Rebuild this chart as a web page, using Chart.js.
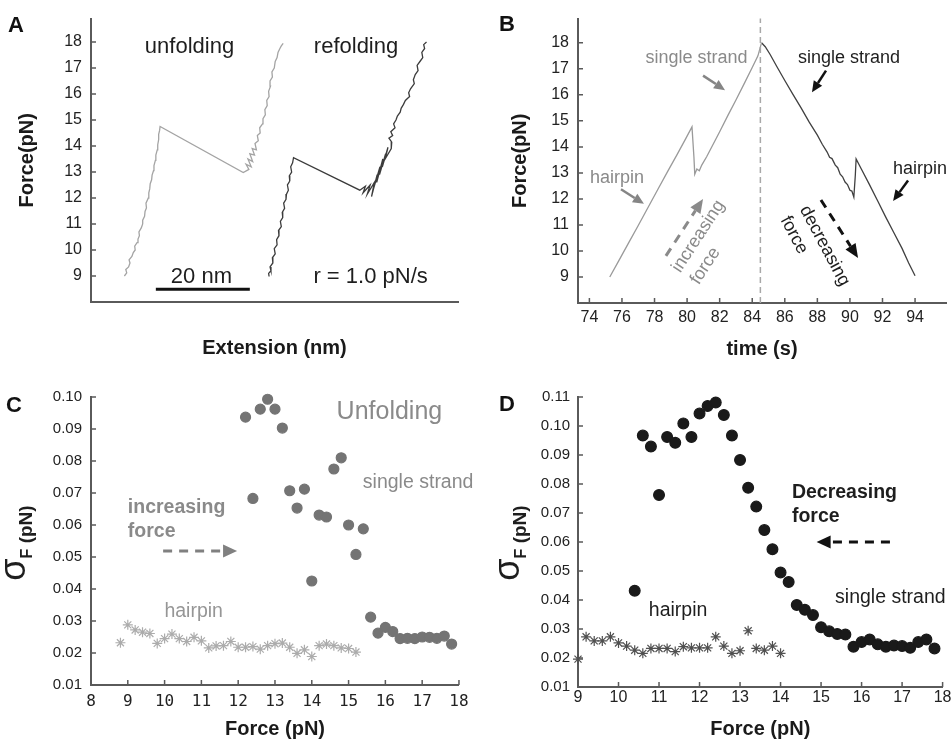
<!DOCTYPE html>
<html>
<head>
<meta charset="utf-8">
<title>Hairpin unfolding / refolding</title>
<script src="https://cdn.jsdelivr.net/npm/chart.js@4.4.1/dist/chart.umd.min.js"></script>
<style>
    body { margin: 0; background: #fff; }
    #fig { position: relative; width: 952px; height: 740px; overflow: hidden; }
    .panel { position: absolute; width: 476px; height: 370px; }
    .tag { position: absolute; font: bold 22px "Liberation Sans", Arial, sans-serif; color: #111; line-height: 22px; }
</style>
</head>
<body>
<div id="fig">
    <div class="panel" style="left:0;top:0"><canvas id="chart-a"></canvas></div>
    <div class="panel" style="left:476px;top:0"><canvas id="chart-b"></canvas></div>
    <div class="panel" style="left:0;top:370px"><canvas id="chart-c"></canvas></div>
    <div class="panel" style="left:476px;top:370px"><canvas id="chart-d"></canvas></div>
    <div class="tag" style="left:8px;top:14px">A</div>
    <div class="tag" style="left:499px;top:13px">B</div>
    <div class="tag" style="left:6px;top:394px">C</div>
    <div class="tag" style="left:499px;top:393px">D</div>
</div>

<script>
// =====================
// DATA
// =====================

// A: force vs extension, unfolding pull (nm, pN)
const unfoldExt = [7.1, 7.6, 7.4, 8.0, 8.3, 8.1, 8.7, 9.0, 9.4, 9.3, 9.8, 10.0, 10.3, 10.2, 10.7, 11.0, 11.0, 11.4, 11.5, 11.8,
    11.7, 12.2, 12.3, 12.5, 12.6, 12.9, 13.0, 13.3, 13.4, 13.7, 13.8, 14.1, 14.2, 14.4, 14.4, 14.6, 14.7,
    32.4, 33.6, 33.0, 34.1, 33.4, 34.4, 33.8, 34.8, 34.3, 35.2, 34.9, 35.6, 35.4, 36.0, 35.9, 36.5, 36.6, 37.1, 37.0, 37.5,
    37.4, 37.9, 37.8, 38.2, 38.1, 38.6, 38.5, 39.0, 39.2, 39.6, 39.8, 40.2, 40.5, 40.9];
const unfoldForce = [9.0, 9.12, 9.25, 9.35, 9.5, 9.62, 9.75, 9.9, 10.0, 10.15, 10.28, 10.42, 10.55, 10.7, 10.85, 11.0, 11.15, 11.3, 11.48, 11.62,
    11.8, 12.0, 12.2, 12.35, 12.55, 12.7, 12.88, 13.05, 13.25, 13.45, 13.65, 13.85, 14.05, 14.25, 14.45, 14.6, 14.75,
    12.98, 13.1, 13.3, 13.2, 13.5, 13.4, 13.7, 13.65, 13.9, 13.85, 14.1, 14.2, 14.4, 14.5, 14.7, 14.85, 15.05, 15.2, 15.4, 15.55,
    15.75, 15.9, 16.1, 16.3, 16.5, 16.65, 16.85, 17.0, 17.25, 17.4, 17.6, 17.75, 17.85, 17.95];

// A: refolding relaxation, starts at the top and runs down
const refoldExt = [71.4, 70.8, 71.0, 70.4, 70.6, 70.0, 69.4, 69.6, 69.0, 68.6, 68.8, 68.0, 67.6, 67.8, 66.9, 66.5, 66.0, 65.8, 65.2, 64.9,
    64.4, 64.7, 63.8, 64.2, 63.4, 64.0, 63.9, 62.6, 63.2, 62.0, 62.7, 61.4, 62.1, 60.8, 61.5, 60.2, 60.9, 59.7, 60.3, 58.8,
    59.4, 57.9, 58.4, 57.2,
    43.1, 42.9, 42.5, 42.7, 42.2, 42.3, 41.8, 42.0, 41.6, 41.5, 41.0, 41.2, 40.7, 40.8, 40.3, 40.5, 39.9, 40.0, 39.5, 39.6,
    39.0, 39.2, 38.6, 38.7, 38.1, 38.3, 37.8, 37.9];
const refoldForce = [18.0, 17.9, 17.75, 17.6, 17.4, 17.25, 17.1, 16.9, 16.75, 16.55, 16.4, 16.2, 16.05, 15.9, 15.75, 15.6, 15.45, 15.3, 15.15, 15.0,
    14.85, 14.7, 14.55, 14.4, 14.3, 14.15, 13.9, 13.5, 13.95, 13.2, 13.7, 12.9, 13.5, 12.6, 13.2, 12.4, 12.9, 12.05, 12.6, 12.15,
    12.5, 12.2, 12.45, 12.3,
    13.55, 13.35, 13.2, 13.0, 12.85, 12.65, 12.5, 12.3, 12.15, 11.95, 11.8, 11.6, 11.45, 11.25, 11.1, 10.9, 10.75, 10.55, 10.4, 10.2,
    10.05, 9.85, 9.7, 9.5, 9.35, 9.2, 9.1, 8.98];

const scaleBarExt = [13.8, 33.8];   // 20 nm
const scaleBarForce = 8.49;
const forceTicks = [9, 10, 11, 12, 13, 14, 15, 16, 17, 18];

// B: force vs time
const riseTime = [75.25, 75.8, 76.4, 77.0, 77.6, 78.2, 78.8, 79.4, 79.9, 80.3, 80.42, 80.47, 80.6, 80.75, 80.9, 81.2, 81.6, 82.0,
    82.5, 83.0, 83.5, 84.0, 84.35, 84.57];
const riseForce = [9.0, 9.62, 10.3, 10.98, 11.67, 12.36, 13.05, 13.72, 14.3, 14.77, 13.6, 12.95, 13.15, 13.08, 13.3, 13.62, 14.1, 14.58,
    15.2, 15.8, 16.42, 17.05, 17.5, 18.0];
const fallTime = [84.57, 84.8, 85.1, 85.5, 86.0, 86.5, 87.0, 87.5, 88.0, 88.3, 88.6, 88.75, 88.9, 89.1, 89.25, 89.4, 89.55, 89.7,
    89.85, 90.0, 90.12, 90.24, 90.33, 90.38, 90.7, 91.2, 91.7, 92.2, 92.7, 93.2, 93.6, 94.0];
const fallForce = [18.0, 17.85, 17.55, 17.1, 16.55, 16.02, 15.5, 14.95, 14.45, 14.1, 13.8, 13.6, 13.55, 13.3, 13.2, 12.95, 12.85, 12.65,
    12.55, 12.33, 12.3, 12.07, 12.9, 13.54, 13.15, 12.55, 11.93, 11.3, 10.7, 10.1, 9.55, 9.05];
const turnTime = 84.5;
const timeTicks = [74, 76, 78, 80, 82, 84, 86, 88, 90, 92, 94];

// C: force fluctuation while unfolding
const upSSForce = [12.2, 12.4, 12.6, 12.8, 13.0, 13.2, 13.4, 13.6, 13.8, 14.0, 14.2, 14.4, 14.6, 14.8, 15.0, 15.2, 15.4,
    15.6, 15.8, 16.0, 16.2, 16.4, 16.6, 16.8, 17.0, 17.2, 17.4, 17.6, 17.8];
const upSSSigma = [0.0937, 0.0683, 0.0962, 0.0993, 0.0962, 0.0903, 0.0707, 0.0653, 0.0712, 0.0425, 0.0631, 0.0625, 0.0775, 0.0810, 0.0600, 0.0508, 0.0588,
    0.0312, 0.0262, 0.0280, 0.0267, 0.0245, 0.0246, 0.0245, 0.0250, 0.0249, 0.0246, 0.0253, 0.0228];
const upHPForce = [8.8, 9.0, 9.2, 9.4, 9.6, 9.8, 10.0, 10.2, 10.4, 10.6, 10.8, 11.0, 11.2, 11.4, 11.6, 11.8, 12.0,
    12.2, 12.4, 12.6, 12.8, 13.0, 13.2, 13.4, 13.6, 13.8, 14.0, 14.2, 14.4, 14.6, 14.8, 15.0, 15.2];
const upHPSigma = [0.0232, 0.0288, 0.0272, 0.0265, 0.0261, 0.0230, 0.0245, 0.0259, 0.0245, 0.0236, 0.0249, 0.0238, 0.0216, 0.0222, 0.0223, 0.0236, 0.0218,
    0.0218, 0.0220, 0.0212, 0.0223, 0.0229, 0.0231, 0.0218, 0.0199, 0.0210, 0.0189, 0.0223, 0.0228, 0.0223, 0.0216, 0.0214, 0.0203];

// D: force fluctuation while refolding
const downSSForce = [10.4, 10.6, 10.8, 11.0, 11.2, 11.4, 11.6, 11.8, 12.0, 12.2, 12.4, 12.6, 12.8, 13.0, 13.2, 13.4, 13.6, 13.8, 14.0,
    14.2, 14.4, 14.6, 14.8, 15.0, 15.2, 15.4, 15.6, 15.8, 16.0, 16.2, 16.4, 16.6, 16.8, 17.0, 17.2, 17.4, 17.6, 17.8];
const downSSSigma = [0.0432, 0.0967, 0.0929, 0.0762, 0.0962, 0.0942, 0.1009, 0.0962, 0.1043, 0.1069, 0.1081, 0.1038, 0.0967, 0.0883, 0.0787, 0.0722, 0.0641, 0.0575, 0.0495,
    0.0462, 0.0383, 0.0366, 0.0348, 0.0306, 0.0292, 0.0283, 0.0281, 0.0239, 0.0255, 0.0264, 0.0247, 0.0239, 0.0243, 0.0241, 0.0235, 0.0255, 0.0264, 0.0233];
const downHPForce = [9.0, 9.2, 9.4, 9.6, 9.8, 10.0, 10.2, 10.4, 10.6, 10.8, 11.0, 11.2, 11.4, 11.6, 11.8, 12.0, 12.2,
    12.4, 12.6, 12.8, 13.0, 13.2, 13.4, 13.6, 13.8, 14.0];
const downHPSigma = [0.0196, 0.0273, 0.0259, 0.0259, 0.0273, 0.0252, 0.0241, 0.0227, 0.0216, 0.0233, 0.0233, 0.0233, 0.0222, 0.0239, 0.0235, 0.0235, 0.0235,
    0.0273, 0.0241, 0.0216, 0.0225, 0.0294, 0.0233, 0.0227, 0.0241, 0.0216];

const sigmaTicksC = [0.01, 0.02, 0.03, 0.04, 0.05, 0.06, 0.07, 0.08, 0.09, 0.10];
const sigmaTicksD = [0.01, 0.02, 0.03, 0.04, 0.05, 0.06, 0.07, 0.08, 0.09, 0.10, 0.11];
const forceTicksC = [8, 9, 10, 11, 12, 13, 14, 15, 16, 17, 18];
const forceTicksD = [9, 10, 11, 12, 13, 14, 15, 16, 17, 18];

// =====================
// HELPERS
// =====================

const SANS = '"Liberation Sans", Arial, sans-serif';
const MONO = '"DejaVu Sans Mono", monospace';
const AXIS = '#5a5a5a';
const GREY_TXT = '#8a8a8a';
const DARK_TXT = '#1e1e1e';

const pts = (xs, ys) => xs.map((v, i) => ({ x: v, y: Array.isArray(ys) ? ys[i] : ys }));

function axis(o) {
    return {
        type: 'linear',
        min: o.min,
        max: o.max,
        grid: { display: false, drawTicks: false },
        border: { display: true, color: AXIS, width: 2 },
        afterBuildTicks: s => { s.ticks = (o.ticks || []).map(v => ({ value: v })); },
        afterFit: s => {
            if (o.width) s.width = o.width;
            if (o.height) s.height = o.height;
        },
        ticks: {
            display: !!o.ticks,
            padding: o.tickPad || 0,
            color: '#222',
            font: o.tickFont || { family: SANS, size: 16 },
            callback: o.fmt || (v => v),
        },
        title: {
            display: !!o.title,
            text: o.title,
            color: '#1a1a1a',
            font: { family: SANS, size: 20, weight: 'bold', lineHeight: 1 },
            padding: o.titlePad || 0,
        },
    };
}

function drawArrow(ctx, x1, y1, x2, y2, s) {
    const ang = Math.atan2(y2 - y1, x2 - x1);
    const hl = s.head || 11, hw = (s.headW || 10) / 2;
    const bx = x2 - hl * Math.cos(ang), by = y2 - hl * Math.sin(ang);
    ctx.strokeStyle = s.color;
    ctx.fillStyle = s.color;
    ctx.lineWidth = s.width || 2.5;
    ctx.setLineDash(s.dash || []);
    ctx.beginPath();
    ctx.moveTo(x1, y1);
    ctx.lineTo(bx, by);
    ctx.stroke();
    ctx.setLineDash([]);
    ctx.beginPath();
    ctx.moveTo(x2, y2);
    ctx.lineTo(bx + hw * Math.sin(ang), by - hw * Math.cos(ang));
    ctx.lineTo(bx - hw * Math.sin(ang), by + hw * Math.cos(ang));
    ctx.closePath();
    ctx.fill();
}

// sigma_F (pN) axis title, rotated, with subscript
function sigmaTitle(ctx, bx, cy) {
    const parts = [
        { t: 'σ', f: '36px ' + SANS, dy: 0 },
        { t: 'F', f: 'bold 16px ' + SANS, dy: 7 },
        { t: ' (pN)', f: 'bold 19px ' + SANS, dy: 7 },
    ];
    ctx.save();
    ctx.translate(bx, cy);
    ctx.rotate(-Math.PI / 2);
    let w = 0;
    parts.forEach(p => { ctx.font = p.f; p.w = ctx.measureText(p.t).width; w += p.w; });
    let x0 = -w / 2;
    ctx.fillStyle = DARK_TXT;
    ctx.textAlign = 'left';
    ctx.textBaseline = 'alphabetic';
    parts.forEach(p => { ctx.font = p.f; ctx.fillText(p.t, x0, p.dy); x0 += p.w; });
    ctx.restore();
}

// inward tick marks, notes and arrows placed in data units
function decor(cfg) {
    return {
        id: 'decor',
        beforeDatasetsDraw(chart) {
            const { ctx, chartArea: a, scales: { x, y } } = chart;
            ctx.save();
            ctx.strokeStyle = AXIS;
            ctx.lineWidth = 1.5;
            ctx.beginPath();
            if (cfg.yTicks) y.ticks.forEach(t => {
                const p = y.getPixelForValue(t.value);
                ctx.moveTo(a.left, p); ctx.lineTo(a.left + 5, p);
            });
            if (cfg.xTicks) x.ticks.forEach(t => {
                const p = x.getPixelForValue(t.value);
                ctx.moveTo(p, a.bottom); ctx.lineTo(p, a.bottom - 5);
            });
            ctx.stroke();
            ctx.restore();
        },
        afterDatasetsDraw(chart) {
            const { ctx, scales: { x, y } } = chart;
            ctx.save();
            (cfg.arrows || []).forEach(ar => drawArrow(ctx,
                x.getPixelForValue(ar.from[0]), y.getPixelForValue(ar.from[1]),
                x.getPixelForValue(ar.to[0]), y.getPixelForValue(ar.to[1]), ar));
            (cfg.notes || []).forEach(n => {
                const lines = Array.isArray(n.text) ? n.text : [n.text];
                ctx.save();
                ctx.translate(x.getPixelForValue(n.at[0]), y.getPixelForValue(n.at[1]));
                ctx.rotate((n.rotate || 0) * Math.PI / 180);
                ctx.font = n.font;
                ctx.fillStyle = n.color;
                ctx.textAlign = n.align || 'center';
                ctx.textBaseline = 'middle';
                lines.forEach((s, i) => ctx.fillText(s, 0, i * (n.gap || 0)));
                ctx.restore();
            });
            if (cfg.sigma) sigmaTitle(ctx, cfg.sigma[0], cfg.sigma[1]);
            ctx.restore();
        },
    };
}

function baseOptions(pad, x, y) {
    return {
        responsive: true,
        maintainAspectRatio: false,
        animation: false,
        layout: { padding: pad },
        plugins: { legend: { display: false }, tooltip: { enabled: false } },
        scales: { x: x, y: y },
    };
}

const line = (data, color, width, extra) => Object.assign({
    data: data, showLine: true, borderColor: color, borderWidth: width,
    pointRadius: 0, tension: 0, fill: false, clip: false,
}, extra || {});

const marks = (data, style, color, r, extra) => Object.assign({
    data: data, pointStyle: style, pointRadius: r, pointHoverRadius: r,
    backgroundColor: color, borderColor: color, borderWidth: 1.2, clip: false,
}, extra || {});

// =====================
// CHARTS
// =====================

new Chart(document.getElementById('chart-a'), {
    type: 'scatter',
    data: {
        datasets: [
            line(pts(unfoldExt, unfoldForce), '#a4a4a4', 1.3),
            line(pts(refoldExt, refoldForce), '#3c3c3c', 1.3),
            line(pts(scaleBarExt, scaleBarForce), '#111', 3),
        ],
    },
    options: baseOptions({ left: 0, right: 18, top: 13, bottom: 0 },
        axis({ min: 0, max: 78.1, height: 68, title: 'Extension (nm)', titlePad: { bottom: 12 } }),
        axis({ min: 8, max: 18.9, width: 91, ticks: forceTicks, tickPad: 9, title: 'Force(pN)', titlePad: { top: 17 } })),
    plugins: [decor({
        yTicks: true,
        notes: [
            { text: 'unfolding', at: [20.96, 17.81], font: '22px ' + SANS, color: DARK_TXT },
            { text: 'refolding', at: [56.4, 17.81], font: '22px ' + SANS, color: DARK_TXT },
            { text: '20 nm', at: [23.5, 8.98], font: '22px ' + SANS, color: DARK_TXT },
            { text: 'r = 1.0 pN/s', at: [59.5, 8.98], font: '22px ' + SANS, color: DARK_TXT },
        ],
    })],
});

new Chart(document.getElementById('chart-b'), {
    type: 'scatter',
    data: {
        datasets: [
            line(pts([turnTime, turnTime], [8, 18.93]), '#a8a8a8', 1.5, { borderDash: [6, 4] }),
            line(pts(riseTime, riseForce), '#9a9a9a', 1.3),
            line(pts(fallTime, fallForce), '#404040', 1.3),
        ],
    },
    options: baseOptions({ left: 0, right: 6, top: 13, bottom: 0 },
        axis({ min: 73.3, max: 95.9, height: 67, ticks: timeTicks, tickPad: 5.4, title: 'time (s)', titlePad: { bottom: 11 } }),
        axis({ min: 8, max: 18.93, width: 102, ticks: forceTicks, tickPad: 9, title: 'Force(pN)', titlePad: { top: 34.5 } })),
    plugins: [decor({
        xTicks: true,
        yTicks: true,
        notes: [
            { text: 'single strand', at: [80.58, 17.42], font: '18px ' + SANS, color: GREY_TXT },
            { text: 'single strand', at: [89.94, 17.42], font: '18px ' + SANS, color: DARK_TXT },
            { text: 'hairpin', at: [75.7, 12.82], font: '18px ' + SANS, color: GREY_TXT },
            { text: 'hairpin', at: [94.3, 13.16], font: '18px ' + SANS, color: DARK_TXT },
            { text: ['increasing', 'force'], at: [79.32, 9.24], font: '18px ' + SANS, color: GREY_TXT, align: 'left', rotate: -57, gap: 22 },
            { text: ['decreasing', 'force'], at: [87.18, 11.69], font: '18px ' + SANS, color: DARK_TXT, align: 'left', rotate: 62, gap: 22 },
        ],
        arrows: [
            { from: [80.98, 16.74], to: [82.33, 16.18], color: '#858585' },
            { from: [75.94, 12.37], to: [77.35, 11.81], color: '#858585' },
            { from: [88.53, 16.93], to: [87.67, 16.10], color: '#111' },
            { from: [93.57, 12.71], to: [92.65, 11.92], color: '#111' },
            { from: [78.7, 9.81], to: [80.98, 12.0], color: '#8a8a8a', width: 3, dash: [9, 7], head: 14, headW: 12 },
            { from: [88.22, 11.96], to: [90.5, 9.73], color: '#111', width: 3, dash: [9, 7], head: 14, headW: 12 },
        ],
    })],
});

new Chart(document.getElementById('chart-c'), {
    type: 'scatter',
    data: {
        datasets: [
            marks(pts(upHPForce, upHPSigma), 'star', '#acacac', 5),
            marks(pts(upSSForce, upSSSigma), 'circle', '#747474', 5),
        ],
    },
    options: baseOptions({ left: 0, right: 17, top: 27, bottom: 0 },
        axis({ min: 8, max: 18, height: 55, ticks: forceTicksC, tickPad: 7.4, tickFont: { family: MONO, size: 16 },
            title: 'Force (pN)', titlePad: { bottom: 1 } }),
        axis({ min: 0.01, max: 0.10, width: 91, ticks: sigmaTicksC, tickPad: 9, tickFont: { family: SANS, size: 15 },
            fmt: v => v.toFixed(2) })),
    plugins: [decor({
        xTicks: true,
        yTicks: true,
        sigma: [25, 173],
        notes: [
            { text: 'Unfolding', at: [16.11, 0.0953], font: '25px ' + SANS, color: GREY_TXT },
            { text: 'single strand', at: [16.89, 0.0731], font: '19.5px ' + SANS, color: GREY_TXT },
            { text: ['increasing', 'force'], at: [9.0, 0.0653], font: 'bold 19.5px ' + SANS, color: GREY_TXT, align: 'left', gap: 24 },
            { text: 'hairpin', at: [10.79, 0.0328], font: '19.5px ' + SANS, color: '#969696' },
        ],
        arrows: [
            { from: [9.96, 0.0519], to: [11.97, 0.0519], color: '#808080', width: 3, dash: [9, 7], head: 14, headW: 13 },
        ],
    })],
});

new Chart(document.getElementById('chart-d'), {
    type: 'scatter',
    data: {
        datasets: [
            marks(pts(downHPForce, downHPSigma), 'star', '#505050', 5),
            marks(pts(downSSForce, downSSSigma), 'circle', '#1a1a1a', 5.4),
        ],
    },
    options: baseOptions({ left: 0, right: 6, top: 27, bottom: 0 },
        axis({ min: 9, max: 18, height: 53, ticks: forceTicksD, tickPad: 0.5, title: 'Force (pN)', titlePad: { bottom: 1 } }),
        axis({ min: 0.01, max: 0.11, width: 102, ticks: sigmaTicksD, tickPad: 8, tickFont: { family: SANS, size: 15 },
            fmt: v => v.toFixed(2) })),
    plugins: [decor({
        xTicks: true,
        yTicks: true,
        sigma: [43, 173],
        notes: [
            { text: ['Decreasing', 'force'], at: [14.28, 0.0769], font: 'bold 19.5px ' + SANS, color: DARK_TXT, align: 'left', gap: 24 },
            { text: 'single strand', at: [16.71, 0.0407], font: '19.5px ' + SANS, color: DARK_TXT },
            { text: 'hairpin', at: [11.47, 0.0362], font: '19.5px ' + SANS, color: DARK_TXT },
        ],
        arrows: [
            { from: [16.7, 0.06], to: [14.89, 0.06], color: '#111', width: 3, dash: [9, 7], head: 14, headW: 13 },
        ],
    })],
});
</script>
</body>
</html>
